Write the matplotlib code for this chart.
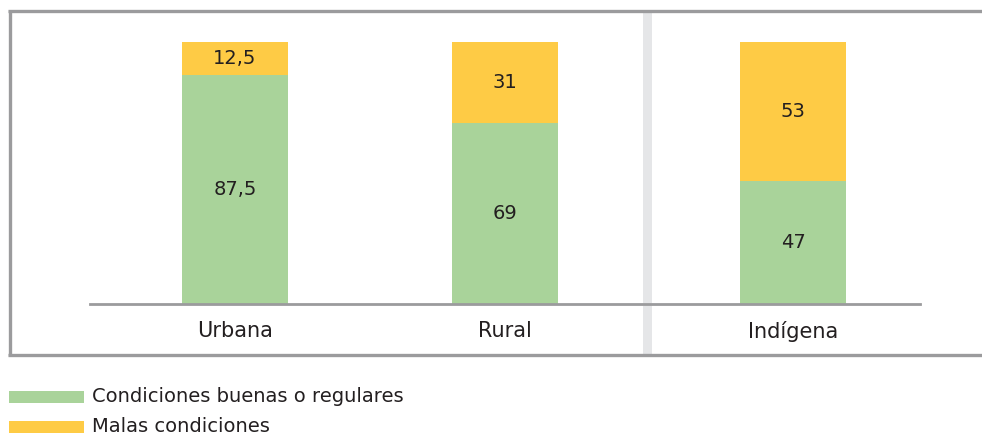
import matplotlib.pyplot as plt
from matplotlib.lines import Line2D
from matplotlib.patches import Rectangle

plt.rcParams['font.family'] = ['DejaVu Sans']

# datos
categorias = ['Urbana', 'Rural', 'Indígena']
buenas = [87.5, 69, 47]
malas = [12.5, 31, 53]
etiq_buenas = ['87,5', '69', '47']
etiq_malas = ['12,5', '31', '53']
series = ['Condiciones buenas o regulares', 'Malas condiciones']

verde = '#a9d39a'
amarillo = '#fecb45'
gris = '#9b9b9d'
texto = '#231f20'

W, H = 982, 436
fig = plt.figure(figsize=(W / 100, H / 100), dpi=100)

def fx(px):
    return px / W

def fy(py):
    return 1 - py / H

# marco exterior y separador (detrás de los ejes)
fig.add_artist(Rectangle((fx(643), fy(355)), fx(9), fy(10) - fy(355),
                         transform=fig.transFigure, color='#e5e6e8', lw=0,
                         zorder=-1))
for xs, ys in [([9.5, 9.5], [10, 356]), ([8, 982], [11, 11]), ([8, 982], [355, 355])]:
    fig.add_artist(Line2D([fx(x) for x in xs], [fy(y) for y in ys],
                          transform=fig.transFigure, color=gris, lw=2.4,
                          solid_capstyle='butt'))

# ejes: de x=90 a 920 px, de y=42 (100) a 304 (0)
ax = fig.add_axes([fx(90), fy(304), fx(920) - fx(90), fy(42) - fy(304)])
pos = [0, 2.55, 5.265]
ax.bar(pos, buenas, width=1, color=verde)
ax.bar(pos, malas, width=1, bottom=buenas, color=amarillo)
ax.set_xlim(-1.368, 6.462)
ax.set_ylim(0, 100)

for x, b, m, eb, em in zip(pos, buenas, malas, etiq_buenas, etiq_malas):
    ax.text(x, b / 2, eb, ha='center', va='center', fontsize=14, color=texto)
    ax.text(x, b + m / 2, em, ha='center', va='center', fontsize=14, color=texto)

ax.set_xticks(pos)
ax.set_xticklabels(categorias, fontsize=15, color=texto)
ax.tick_params(axis='x', length=0, pad=12)
ax.set_yticks([])
for s in ['top', 'right', 'left']:
    ax.spines[s].set_visible(False)
ax.spines['bottom'].set_color(gris)
ax.spines['bottom'].set_linewidth(2)
ax.patch.set_alpha(0)

# leyenda
for y0, col, lab in [(391, verde, series[0]), (421, amarillo, series[1])]:
    fig.add_artist(Rectangle((fx(9), fy(y0 + 12)), fx(75), fy(y0) - fy(y0 + 12),
                             transform=fig.transFigure, color=col, lw=0))
    fig.text(fx(92), fy(y0 + 5), lab, ha='left', va='center', fontsize=14, color=texto)

fig.savefig('out.png', dpi=100)
